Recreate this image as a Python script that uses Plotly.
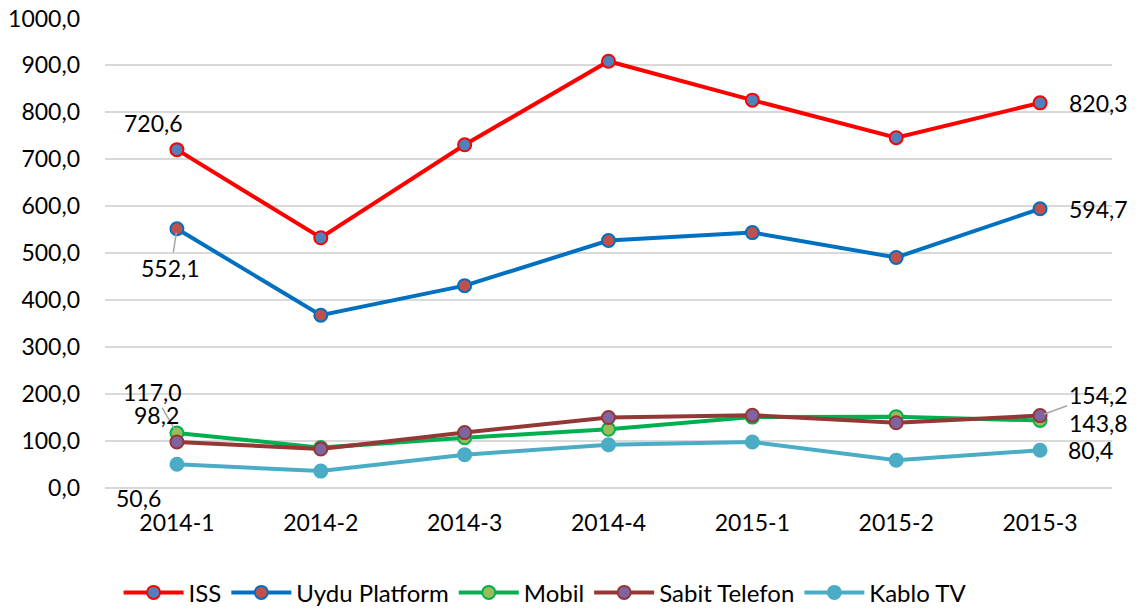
import plotly.graph_objects as go

# Veriler
donemler = ["2014-1", "2014-2", "2014-3", "2014-4", "2015-1", "2015-2", "2015-3"]
iss = [720.6, 533.0, 731.0, 909.0, 826.0, 746.0, 820.3]
uydu = [552.1, 368.0, 431.0, 527.0, 544.0, 491.0, 594.7]
mobil = [117.0, 86.0, 107.0, 125.0, 151.0, 152.0, 143.8]
sabit = [98.2, 83.0, 118.0, 150.0, 155.0, 139.0, 154.2]
kablo = [50.6, 36.0, 71.0, 92.0, 98.0, 59.0, 80.4]

seriler = [
    ("ISS", iss, "#FF0000", "#4F81BD"),
    ("Uydu Platform", uydu, "#0070C0", "#C0504D"),
    ("Mobil", mobil, "#00B050", "#9BBB59"),
    ("Sabit Telefon", sabit, "#953735", "#8064A2"),
    ("Kablo TV", kablo, "#4BACC6", "#4BACC6"),
]

FONT = "Lato, 'Open Sans', sans-serif"
FS = 23

fig = go.Figure()
for ad, y, renk, dolgu in seriler:
    fig.add_trace(
        go.Scatter(
            x=donemler,
            y=y,
            name=ad,
            mode="lines+markers",
            line=dict(color=renk, width=4),
            marker=dict(size=13, color=dolgu, line=dict(color=renk, width=2)),
        )
    )


def etiket(seri, i, ax, ay, ok=False):
    fig.add_annotation(
        x=donemler[i],
        y=seri[i],
        text=f"{seri[i]:.1f}".replace(".", ","),
        showarrow=True,
        arrowhead=0,
        arrowwidth=1.5,
        standoff=4,
        arrowcolor="#A6A6A6" if ok else "rgba(0,0,0,0)",
        ax=ax,
        ay=ay,
        font=dict(size=FS, color="#000000", family=FONT),
    )


etiket(iss, 0, -23, -27)
etiket(uydu, 0, -6, 39, ok=True)
etiket(mobil, 0, -24, -41, ok=True)
etiket(sabit, 0, -20, -27)
etiket(kablo, 0, -38, 34)
etiket(iss, 6, 58, 0)
etiket(uydu, 6, 58, 0)
etiket(sabit, 6, 58, -21, ok=True)
etiket(mobil, 6, 58, 3)
etiket(kablo, 6, 50, 0)

fig.update_layout(
    width=1122,
    height=601,
    margin=dict(l=97, r=18, t=10, b=121, autoexpand=False),
    paper_bgcolor="white",
    plot_bgcolor="white",
    separators=",.",
    font=dict(family=FONT, size=FS, color="#000000"),
    showlegend=True,
    legend=dict(
        orientation="h",
        x=0.437,
        xanchor="center",
        y=-0.223,
        yanchor="middle",
        font=dict(size=24),
        itemwidth=60,
    ),
)
fig.update_xaxes(
    type="category",
    range=[-0.5, 6.5],
    showgrid=False,
    showline=False,
    ticks="",
    tickfont=dict(size=FS),
    ticklabelstandoff=19,
)
fig.update_yaxes(
    range=[0, 1001],
    tickvals=[0, 100, 200, 300, 400, 500, 600, 700, 800, 900, 1000],
    tickformat=".1f",
    ticklabeloverflow="allow",
    showgrid=True,
    gridcolor="#D9D9D9",
    gridwidth=1.5,
    zeroline=True,
    zerolinecolor="#D9D9D9",
    zerolinewidth=1.5,
    ticks="",
    tickfont=dict(size=FS),
    ticklabelstandoff=24,
)

fig.write_html("out.html")
